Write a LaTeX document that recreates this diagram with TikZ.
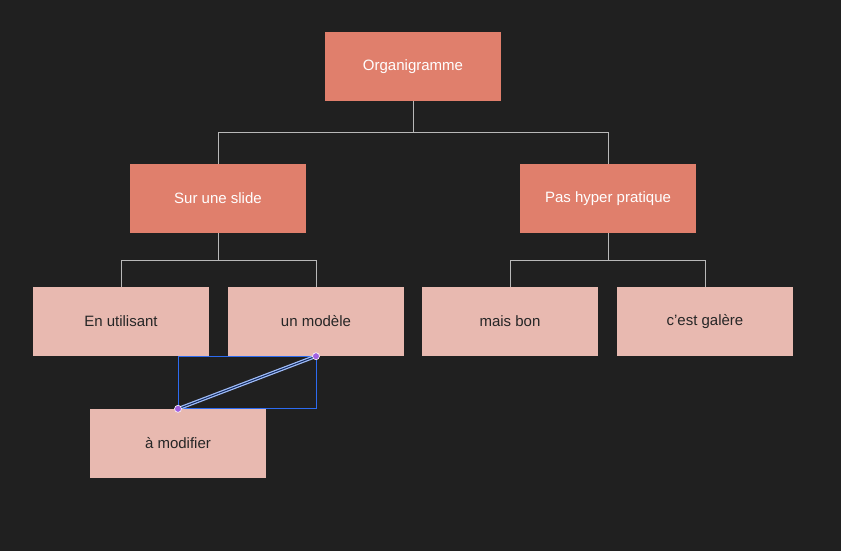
\documentclass[tikz,border=0pt]{standalone}
\usepackage{fontspec}
\setmainfont{Liberation Sans}
\definecolor{bgdark}{HTML}{202020}
\definecolor{boxdark}{HTML}{E07F6C}
\definecolor{boxlight}{HTML}{E8B9B0}
\definecolor{linkgray}{HTML}{B8B8B8}
\definecolor{selblue}{HTML}{2D6BF0}
\definecolor{handle}{HTML}{A060E0}
\tikzset{
  base/.style={minimum width=176pt, minimum height=69pt, inner sep=0pt, font=\fontsize{15}{18}\selectfont},
  topbox/.style={base, fill=boxdark, text=white},
  leafbox/.style={base, fill=boxlight, text=black!85},
  link/.style={draw=linkgray, line width=0.8pt}
}
\begin{document}
\begin{tikzpicture}[x=1pt,y=-1pt]
  \fill[bgdark] (0,0) rectangle (841,551);
  \useasboundingbox (0,0) rectangle (841,551);
  \node[topbox] (org) at (413,66.5) {Organigramme};
  \node[topbox] (slide) at (218,198.5) {Sur une slide};
  \node[topbox] (pas) at (608,198.5) {Pas hyper pratique};
  \node[leafbox] (util) at (121,321.5) {En utilisant};
  \node[leafbox] (mod) at (316,321.5) {un modèle};
  \node[leafbox] (bon) at (510,321.5) {mais bon};
  \node[leafbox] (gal) at (705,321.5) {c’est galère};
  \node[leafbox] (modif) at (178,443.5) {à modifier};
  % connectors
  \draw[link] (org.south) -- ++(0,31) -| (slide.north);
  \draw[link] (org.south) ++(0,31) -| (pas.north);
  \draw[link] (slide.south) -- ++(0,27) -| (util.north);
  \draw[link] (slide.south) ++(0,27) -| (mod.north);
  \draw[link] (pas.south) -- ++(0,27) -| (bon.north);
  \draw[link] (pas.south) ++(0,27) -| (gal.north);
  % selection
  \coordinate (selA) at (modif.north);
  \coordinate (selB) at (mod.south);
  \draw[selblue, line width=0.8pt] (selA) rectangle (selB);
  \draw[draw=white!55!selblue, line width=3.5pt] (selA) -- (selB);
  \draw[draw=black!60!selblue, line width=1pt] (selA) -- (selB);
  \foreach \p in {selA,selB}
    \filldraw[fill=handle, draw=white, line width=0.6pt] (\p) circle (3.5);
\end{tikzpicture}
\end{document}
